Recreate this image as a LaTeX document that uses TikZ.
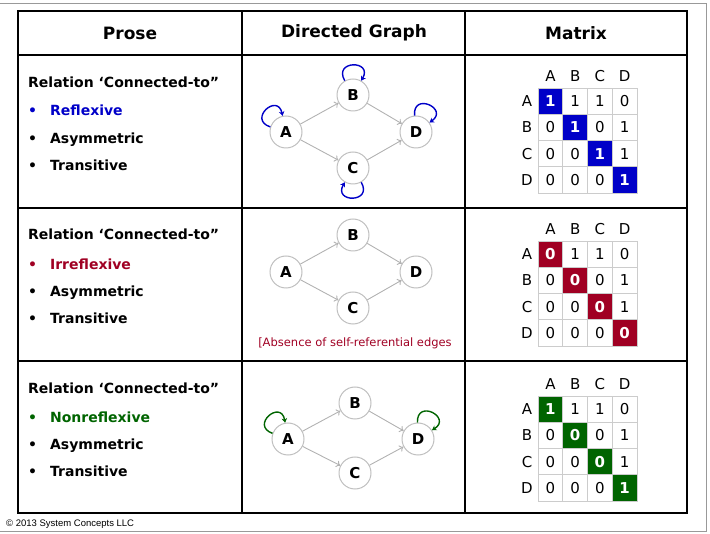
\documentclass[tikz,border=0pt]{standalone}
\usepackage{fontspec}
\setmainfont{DejaVu Sans}
\newfontfamily\noticefont{Liberation Sans}
\usetikzlibrary{arrows.meta}

\definecolor{reflexblue}{RGB}{0,0,200}
\definecolor{irred}{RGB}{160,0,35}
\definecolor{nongreen}{RGB}{0,100,0}

\tikzset{
  rule/.style={line width=2pt, black},
  heading/.style={font=\bfseries\fontsize{17}{17}\selectfont},
  prose/.style={anchor=base west, inner sep=0pt, font=\bfseries\fontsize{14}{14}\selectfont},
  vertex/.style={circle, draw=black!25, line width=1pt, minimum size=32pt, inner sep=0pt,
    font=\bfseries\fontsize{15}{15}\selectfont},
  arc/.style={draw=black!30, line width=0.9pt, -{To[length=4pt,width=7pt]}},
  selfloop/.style={line width=1.4pt, -{Stealth[length=4.5pt,width=5.5pt]}, min distance=24pt},
  cell/.style={draw=black!20, line width=0.6pt, minimum width=24.75pt, minimum height=26.25pt,
    inner sep=0pt, font=\fontsize{15}{15}\selectfont},
  diag/.style={fill=#1, text=white, font=\bfseries\fontsize{15}{15}\selectfont},
  axis/.style={inner sep=0pt, font=\fontsize{15}{15}\selectfont}
}

\begin{document}
\begin{tikzpicture}[x=1pt, y=-1pt]
  \useasboundingbox (0,0) rectangle (710,534);
  % screenshot frame
  \draw[black!40, line width=0.8pt] (-2,3) rectangle (706,531);

  % Table
  \draw[rule] (18,11) rectangle (687,513);
  \draw[rule] (18,55) -- (687,55);
  \draw[rule] (18,208) -- (687,208);
  \draw[rule] (18,361) -- (687,361);
  \draw[rule] (242,11) -- (242,513);
  \draw[rule] (465,11) -- (465,513);

  % Headings
  \node[heading] (hprose) at (130,33) {Prose};
  \node[heading] (hgraph) at (354,33) {Directed Graph};
  \node[heading] (hmatrix) at (576,33) {Matrix};

  % Prose, row 1
  \node[prose] (rel1) at (28,88) {Relation ‘Connected-to”};
  \node[prose, text=reflexblue] (kind1) at (28,116) {\textbullet\hspace{13pt}Reflexive};
  \node[prose] (asym1) at (28,144) {\textbullet\hspace{13pt}Asymmetric};
  \node[prose] (trans1) at (28,171) {\textbullet\hspace{13pt}Transitive};

  % Prose, row 2
  \node[prose] (rel2) at (28,240) {Relation ‘Connected-to”};
  \node[prose, text=irred] (kind2) at (28,270) {\textbullet\hspace{13pt}Irreflexive};
  \node[prose] (asym2) at (28,297) {\textbullet\hspace{13pt}Asymmetric};
  \node[prose] (trans2) at (28,324) {\textbullet\hspace{13pt}Transitive};

  % Prose, row 3
  \node[prose] (rel3) at (28,394) {Relation ‘Connected-to”};
  \node[prose, text=nongreen] (kind3) at (28,423) {\textbullet\hspace{13pt}Nonreflexive};
  \node[prose] (asym3) at (28,450) {\textbullet\hspace{13pt}Asymmetric};
  \node[prose] (trans3) at (28,477) {\textbullet\hspace{13pt}Transitive};

  % Graph, row 1 (reflexive)
  \node[vertex] (A1) at (286,132) {A};
  \node[vertex] (B1) at (353,95) {B};
  \node[vertex] (C1) at (353,168) {C};
  \node[vertex] (D1) at (416,132) {D};
  \draw[arc] (A1) -- (B1);
  \draw[arc] (A1) -- (C1);
  \draw[arc] (B1) -- (D1);
  \draw[arc] (C1) -- (D1);
  \draw[selfloop, reflexblue] (A1) to[out=162, in=102] (A1);
  \draw[selfloop, reflexblue] (B1) to[out=120, in=60] (B1);
  \draw[selfloop, reflexblue] (C1) to[out=300, in=240] (C1);
  \draw[selfloop, reflexblue] (D1) to[out=95, in=35] (D1);

  % Graph, row 2 (irreflexive)
  \node[vertex] (A2) at (286,272) {A};
  \node[vertex] (B2) at (353,235) {B};
  \node[vertex] (C2) at (353,308) {C};
  \node[vertex] (D2) at (416,272) {D};
  \draw[arc] (A2) -- (B2);
  \draw[arc] (A2) -- (C2);
  \draw[arc] (B2) -- (D2);
  \draw[arc] (C2) -- (D2);
  \node[text=irred, font=\fontsize{11.5}{11.5}\selectfont] (absence) at (355,343)
    {[Absence of self-referential edges};

  % Graph, row 3 (nonreflexive)
  \node[vertex] (A3) at (288,439) {A};
  \node[vertex] (B3) at (355,403) {B};
  \node[vertex] (C3) at (355,473) {C};
  \node[vertex] (D3) at (418,439) {D};
  \draw[arc] (A3) -- (B3);
  \draw[arc] (A3) -- (C3);
  \draw[arc] (B3) -- (D3);
  \draw[arc] (C3) -- (D3);
  \draw[selfloop, nongreen] (A3) to[out=160, in=100] (A3);
  \draw[selfloop, nongreen] (D3) to[out=92, in=32] (D3);

  % Matrices
  \foreach \name/\top/\col/\da/\db/\dc/\dd in
      {one/88/reflexblue/1/1/1/1, two/241/irred/0/0/0/0, three/396/nongreen/1/0/0/1} {
    \foreach \c [count=\j] in {A,B,C,D}
      \node[axis] (m\name-col\c) at (550.4+24.75*\j-24.75, \top-12) {\c};
    \foreach \r/\i/\vals in {A/1/{\da,1,1,0}, B/2/{0,\db,0,1}, C/3/{0,0,\dc,1}, D/4/{0,0,0,\dd}} {
      \node[axis] (m\name-row\r) at (527, \top+13.1+26.25*\i-26.25) {\r};
      \foreach \v [count=\j] in \vals {
        \ifnum\i=\j
          \node[cell, diag=\col] (m\name-\r\j) at (550.4+24.75*\j-24.75, \top+13.1+26.25*\i-26.25) {\v};
        \else
          \node[cell] (m\name-\r\j) at (550.4+24.75*\j-24.75, \top+13.1+26.25*\i-26.25) {\v};
        \fi
      }
    }
  }

  % Copyright line
  \node[anchor=base west, inner sep=0pt, font=\noticefont\fontsize{9.5}{9.5}\selectfont]
    (notice) at (6,527) {© 2013 System Concepts LLC};
\end{tikzpicture}
\end{document}
